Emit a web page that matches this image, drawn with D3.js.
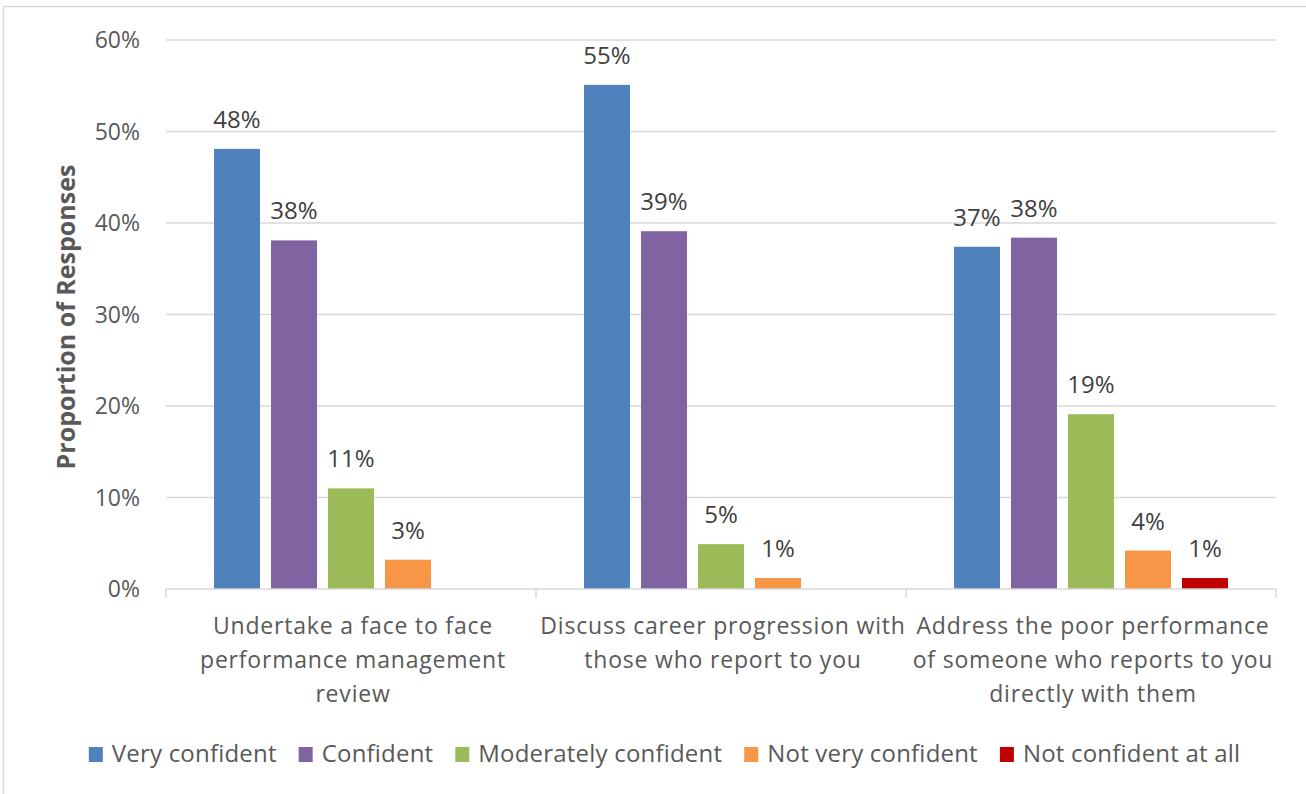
<!DOCTYPE html>
<html>
<head>
<meta charset="utf-8">
<script src="https://cdn.jsdelivr.net/npm/d3@7"></script>
<style>
  body { margin: 0; background: #fff; }
  svg { display: block; font-family: "Open Sans", sans-serif; }
</style>
</head>
<body>
<script>
// chart data
const categories = [
    ['Undertake a face to face', 'performance management', 'review'],
    ['Discuss career progression with', 'those who report to you'],
    ['Address the poor performance', 'of someone who reports to you', 'directly with them']
];
const seriesNames = ['Very confident', 'Confident', 'Moderately confident', 'Not very confident', 'Not confident at all'];
const seriesColors = ['#4f81bd', '#8064a2', '#9bbb59', '#f79646', '#c00000'];
const veryConfident = [0.481, 0.551, 0.374];
const confident = [0.381, 0.391, 0.384];
const moderatelyConfident = [0.110, 0.049, 0.191];
const notVeryConfident = [0.032, 0.012, 0.042];
const notConfidentAtAll = [null, null, 0.012];
const yTicks = [0, 0.1, 0.2, 0.3, 0.4, 0.5, 0.6];

const seriesValues = [veryConfident, confident, moderatelyConfident, notVeryConfident, notConfidentAtAll];

const width = 1306, height = 794;
const svg = d3.select('body').append('svg')
    .attr('width', width)
    .attr('height', height);

// outer chart border
svg.append('rect')
    .attr('x', 3.5).attr('y', 6.5)
    .attr('width', width + 10).attr('height', height + 10)
    .attr('fill', 'none')
    .attr('stroke', '#d9d9d9')
    .attr('stroke-width', 1.5);

const plot = { left: 166, right: 1276, top: 40, bottom: 589 };

const catIdx = categories.map((c, i) => i);
const x0 = d3.scaleBand().domain(catIdx).range([plot.left, plot.right]);
const x1 = d3.scaleBand().domain(seriesNames)
    .range([0, x0.bandwidth()])
    .paddingInner(0.193)
    .paddingOuter(0.842);
const y = d3.scaleLinear().domain([0, 0.6]).range([plot.bottom, plot.top]);

// gridlines
svg.append('g')
    .selectAll('line')
    .data(yTicks.filter(t => t > 0))
    .enter().append('line')
    .attr('x1', plot.left).attr('x2', plot.right)
    .attr('y1', d => y(d)).attr('y2', d => y(d))
    .attr('stroke', '#d9d9d9')
    .attr('stroke-width', 1.5);

// y tick labels
svg.append('g')
    .selectAll('text')
    .data(yTicks)
    .enter().append('text')
    .attr('x', 140)
    .attr('y', d => y(d) + 8)
    .attr('text-anchor', 'end')
    .attr('fill', '#595959')
    .style('font-size', '23px')
    .text(d3.format('.0%'));

// y axis title
svg.append('text')
    .attr('transform', 'translate(75,317) rotate(-90)')
    .attr('text-anchor', 'middle')
    .attr('fill', '#595959')
    .style('font-size', '25px')
    .style('font-weight', 'bold')
    .text('Proportion of Responses');

// bars
const bars = [];
seriesValues.forEach((vals, s) => {
    vals.forEach((v, c) => {
        if (v !== null) bars.push({ s, c, v });
    });
});

svg.append('g')
    .selectAll('rect')
    .data(bars)
    .enter().append('rect')
    .attr('x', d => x0(d.c) + x1(seriesNames[d.s]))
    .attr('y', d => y(d.v))
    .attr('width', x1.bandwidth())
    .attr('height', d => y(0) - y(d.v))
    .attr('fill', d => seriesColors[d.s]);

// value labels
svg.append('g')
    .selectAll('text')
    .data(bars)
    .enter().append('text')
    .attr('x', d => x0(d.c) + x1(seriesNames[d.s]) + x1.bandwidth() / 2)
    .attr('y', d => y(d.v) - 21)
    .attr('text-anchor', 'middle')
    .attr('fill', '#404040')
    .style('font-size', '24px')
    .text(d => d3.format('.0%')(d.v));

// category axis
svg.append('line')
    .attr('x1', plot.left).attr('x2', plot.right)
    .attr('y1', plot.bottom).attr('y2', plot.bottom)
    .attr('stroke', '#d9d9d9')
    .attr('stroke-width', 1.5);

svg.append('g')
    .selectAll('line')
    .data(d3.range(categories.length + 1))
    .enter().append('line')
    .attr('x1', d => plot.left + d * x0.step())
    .attr('x2', d => plot.left + d * x0.step())
    .attr('y1', plot.bottom).attr('y2', plot.bottom + 9)
    .attr('stroke', '#d9d9d9')
    .attr('stroke-width', 1.5);

// category labels
svg.append('g')
    .selectAll('text')
    .data(categories)
    .enter().append('text')
    .attr('text-anchor', 'middle')
    .attr('fill', '#595959')
    .style('font-size', '23px')
    .style('letter-spacing', '0.8px')
    .each(function(lines, i) {
        lines.forEach((line, j) => {
            d3.select(this).append('tspan')
                .attr('x', x0(i) + x0.bandwidth() / 2 + 2)
                .attr('y', 634 + j * 34)
                .text(line);
        });
    });

// legend
const legend = svg.append('g');
let lx = 0;
seriesNames.forEach((name, i) => {
    const g = legend.append('g').attr('transform', `translate(${lx},0)`);
    g.append('rect')
        .attr('x', 0).attr('y', -7)
        .attr('width', 14).attr('height', 15)
        .attr('fill', seriesColors[i]);
    const t = g.append('text')
        .attr('x', 23).attr('y', 8)
        .attr('fill', '#595959')
        .style('font-size', '24px')
        .style('letter-spacing', '0.2px')
        .text(name);
    lx += 23 + t.node().getComputedTextLength() + 22;
});
const legendWidth = lx - 22;
legend.attr('transform', `translate(${664.5 - legendWidth / 2},754)`);
</script>
</body>
</html>
